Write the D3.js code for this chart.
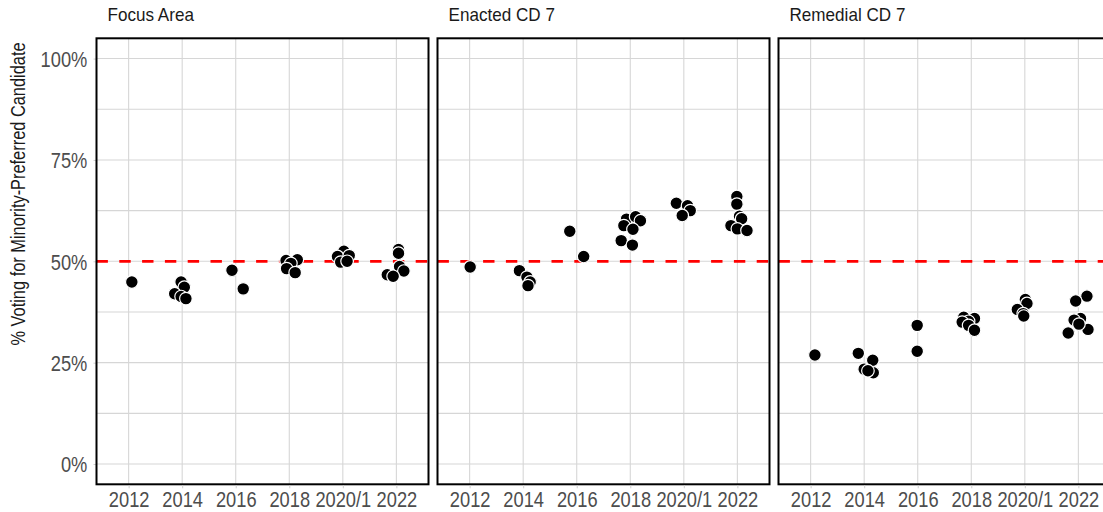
<!DOCTYPE html>
<html lang="en">
<head>
  <meta charset="UTF-8">
  <title>Minority-Preferred Candidate Vote Share</title>
  <script src="https://d3js.org/d3.v7.min.js"></script>
  <style>
    body{ margin:0; background:#fff; }
    text{ font-family: "Liberation Sans", Arial, sans-serif; }
    .tick line{ stroke:#cfcfcf; }
    .domain{ display:none; }
  </style>
</head>
<body>
  <div id="chart"></div>
  <script>
    // x categories shared by all facets
    const years = ["2012", "2014", "2016", "2018", "2020/1", "2022"];
    const yTicks = [0, 25, 50, 75, 100];
    const yMinor = [12.5, 37.5, 62.5, 87.5];
    const threshold = 50;
    const panelTitles = ["Focus Area", "Enacted CD 7", "Remedial CD 7"];

    // each point: [year, jitter (in category units), % voting]
    const focusArea = [
      ["2012", 0.06, 44.9],
      ["2014", -0.02, 44.9], ["2014", 0.04, 43.6], ["2014", -0.14, 42.0], ["2014", -0.02, 41.3], ["2014", 0.07, 40.8],
      ["2016", -0.07, 47.8], ["2016", 0.14, 43.2],
      ["2018", -0.06, 50.2], ["2018", 0.15, 50.4], ["2018", 0.03, 49.5], ["2018", -0.05, 48.2], ["2018", 0.11, 47.2],
      ["2020/1", 0.02, 52.5], ["2020/1", -0.10, 51.2], ["2020/1", 0.12, 51.4], ["2020/1", -0.04, 49.8], ["2020/1", 0.08, 50.0],
      ["2022", 0.04, 52.9], ["2022", 0.04, 52.0], ["2022", 0.06, 48.7], ["2022", 0.14, 47.6], ["2022", -0.17, 46.7], ["2022", -0.06, 46.3]
    ];
    const enactedCD7 = [
      ["2012", 0.01, 48.6],
      ["2014", -0.07, 47.7], ["2014", 0.07, 46.1], ["2014", 0.13, 44.9], ["2014", 0.09, 44.0],
      ["2016", -0.13, 57.4], ["2016", 0.13, 51.2],
      ["2018", -0.07, 60.4], ["2018", 0.10, 61.0], ["2018", 0.19, 60.0], ["2018", -0.12, 58.8], ["2018", 0.05, 57.9], ["2018", -0.17, 55.1], ["2018", 0.04, 54.0],
      ["2020/1", -0.14, 64.3], ["2020/1", 0.07, 63.7], ["2020/1", 0.12, 62.5], ["2020/1", -0.03, 61.3],
      ["2022", -0.01, 66.0], ["2022", -0.01, 64.1], ["2022", 0.04, 61.1], ["2022", 0.08, 60.5], ["2022", -0.12, 58.8], ["2022", 0.00, 58.0], ["2022", 0.18, 57.6]
    ];
    const remedialCD7 = [
      ["2012", 0.08, 26.9],
      ["2014", -0.11, 27.3], ["2014", 0.16, 25.6], ["2014", 0.00, 23.4], ["2014", 0.17, 22.5], ["2014", 0.07, 23.0],
      ["2016", -0.01, 34.2], ["2016", -0.01, 27.8],
      ["2018", -0.14, 36.2], ["2018", 0.06, 35.9], ["2018", -0.05, 35.2], ["2018", -0.17, 35.0], ["2018", -0.05, 34.2], ["2018", 0.06, 33.0],
      ["2020/1", 0.01, 40.6], ["2020/1", 0.04, 39.6], ["2020/1", -0.14, 38.1], ["2020/1", -0.03, 37.1], ["2020/1", -0.02, 36.5],
      ["2022", 0.16, 41.4], ["2022", -0.05, 40.2], ["2022", 0.04, 35.9], ["2022", -0.08, 35.5], ["2022", 0.18, 33.2], ["2022", -0.19, 32.3], ["2022", 0.01, 34.5]
    ];
    const panelData = [focusArea, enactedCD7, remedialCD7];

    const W = 1103, H = 512;
    const panelLeft = [96.5, 437.5, 778.5];
    const panelW = 332;
    const plotTop = 38.3, plotBottom = 484.3;
    const squeeze = 0.85; // narrow look of the original font

    const svg = d3.select("#chart").append("svg")
      .attr("width", W).attr("height", H);

    // ggplot style expansion: 0.6 on discrete x, 5% on y
    const x = d3.scaleLinear().domain([-0.6, years.length - 1 + 0.6]).range([0, panelW]);
    const y = d3.scaleLinear().domain([-5, 105]).range([plotBottom, plotTop]);

    // y axis labels (left of first panel only)
    const yAxis = svg.append("g")
      .attr("transform", "translate(" + panelLeft[0] + ",0)")
      .call(d3.axisLeft(y).tickValues(yTicks).tickSize(3).tickSizeOuter(0).tickFormat(d => d + "%"));
    yAxis.selectAll("text")
      .attr("x", 0).attr("dy", "0.36em")
      .attr("fill", "#4d4d4d").attr("font-size", 21.5)
      .attr("transform", "translate(-9.2,0) scale(" + squeeze + ",1)");

    // axis title
    svg.append("text")
      .attr("transform", "translate(25,194) rotate(-90) scale(0.82,1)")
      .attr("text-anchor", "middle")
      .attr("font-size", 20)
      .attr("fill", "#1a1a1a")
      .text("% Voting for Minority-Preferred Candidate");

    panelData.forEach((pts, i) => {
      const g = svg.append("g").attr("transform", "translate(" + panelLeft[i] + ",0)");

      // grid
      g.append("g").selectAll("line.h")
        .data(yTicks.concat(yMinor))
        .enter().append("line")
        .attr("x1", 0).attr("x2", panelW)
        .attr("y1", d => y(d)).attr("y2", d => y(d))
        .attr("stroke", "#d6d6d6").attr("stroke-width", 1.1);
      g.append("g").selectAll("line.v")
        .data(years)
        .enter().append("line")
        .attr("x1", (d, j) => x(j)).attr("x2", (d, j) => x(j))
        .attr("y1", plotTop).attr("y2", plotBottom)
        .attr("stroke", "#d6d6d6").attr("stroke-width", 1.1);

      // 50% reference line
      g.append("line")
        .attr("x1", 0).attr("x2", panelW)
        .attr("y1", y(threshold)).attr("y2", y(threshold))
        .attr("stroke", "#ff0000").attr("stroke-width", 2.8)
        .attr("stroke-dasharray", "11.4,11.4");

      // points
      g.append("g").selectAll("circle")
        .data(pts)
        .enter().append("circle")
        .attr("cx", d => x(years.indexOf(d[0]) + d[1]))
        .attr("cy", d => y(d[2]))
        .attr("r", 6.3)
        .attr("fill", "#000")
        .attr("stroke", "#fff")
        .attr("stroke-width", 1.2);

      // panel border
      g.append("rect")
        .attr("x", 0).attr("y", plotTop)
        .attr("width", panelW).attr("height", plotBottom - plotTop)
        .attr("fill", "none").attr("stroke", "#000").attr("stroke-width", 2);

      // x axis
      const xa = g.append("g")
        .attr("transform", "translate(0," + (plotBottom + 1) + ")")
        .call(d3.axisBottom(x).tickValues(d3.range(years.length)).tickSize(3).tickSizeOuter(0)
          .tickFormat(j => years[j]));
      xa.selectAll("text")
        .attr("y", 0).attr("dy", 0)
        .attr("fill", "#4d4d4d").attr("font-size", 21.5)
        .attr("transform", "translate(0,22) scale(" + squeeze + ",1)");

      // facet title
      g.append("text")
        .attr("transform", "translate(11,20.8) scale(0.95,1)")
        .attr("font-size", 18)
        .attr("fill", "#1a1a1a")
        .text(panelTitles[i]);
    });
  </script>
</body>
</html>
